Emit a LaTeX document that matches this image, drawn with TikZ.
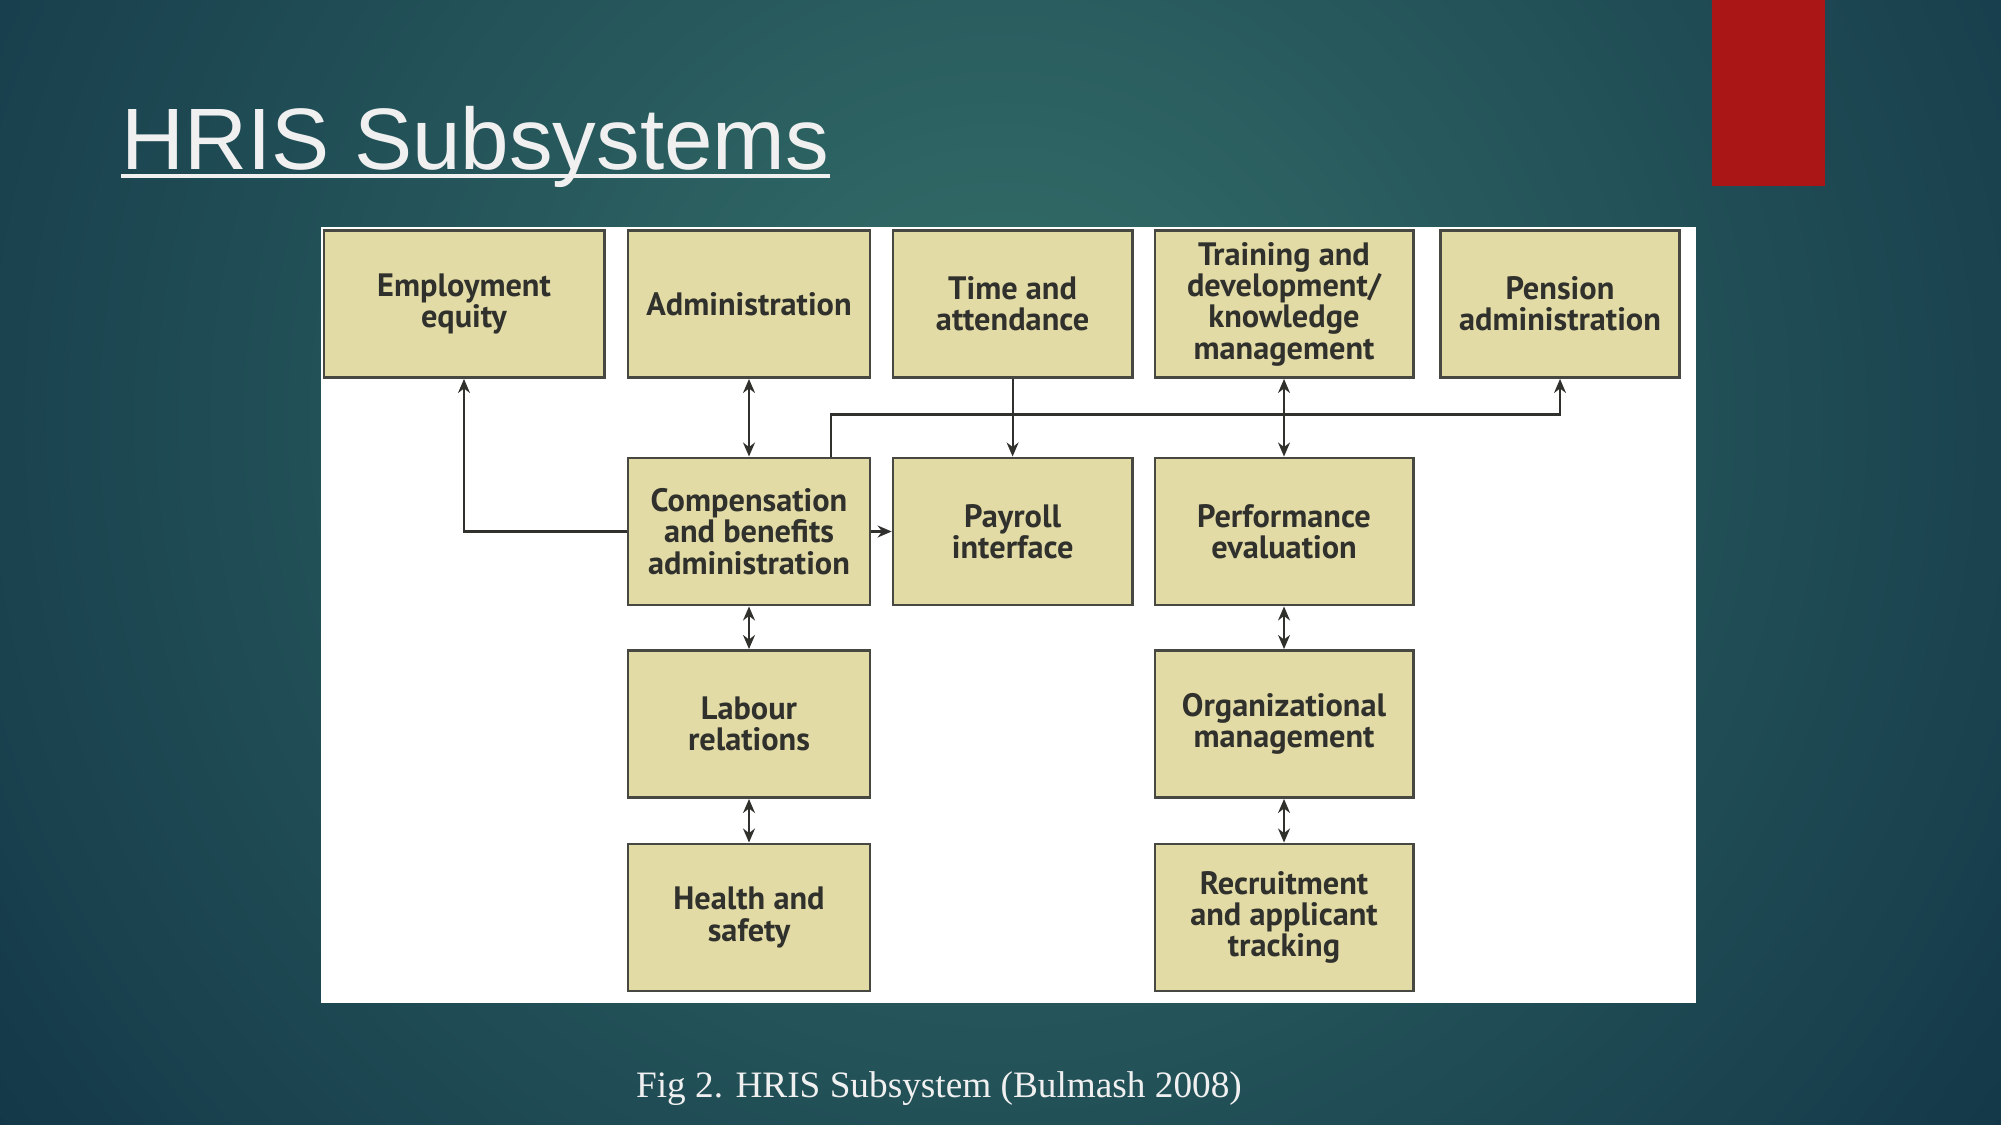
\documentclass[tikz,border=0pt]{standalone}
\usepackage{fontspec}
\setmainfont{Liberation Serif}
\newfontfamily\titlefont{Liberation Sans}
\newfontfamily\boxfont{PT Sans}
\usetikzlibrary{arrows.meta}
\definecolor{slidedark}{RGB}{19,55,72}
\definecolor{slidelight}{RGB}{53,112,106}
\definecolor{accentred}{RGB}{170,22,22}
\definecolor{titlewhite}{RGB}{240,240,240}
\definecolor{boxfill}{RGB}{226,219,166}
\definecolor{boxline}{RGB}{72,72,66}
\definecolor{inkgray}{RGB}{48,48,44}

\begin{document}
\begin{tikzpicture}[x=0.01cm, y=-0.01cm,
    unit/.style={draw=boxline, line width=0.8pt, fill=boxfill, align=center,
                 minimum height=1.47cm, inner sep=1pt, text=inkgray,
                 font=\boxfont\bfseries\fontsize{9.2}{8.9}\selectfont},
    link/.style={draw=inkgray, line width=0.6pt},
    onearrow/.style={link, -{Stealth[length=4pt, width=3.4pt]}},
    twoarrow/.style={link, {Stealth[length=4pt, width=3.4pt]}-{Stealth[length=4pt, width=3.4pt]}}]
    \useasboundingbox (0,0) rectangle (2001,1125);

    % slide background
    \fill[slidedark] (0,0) rectangle (2001,1125);
    \begin{scope}
      \clip (0,0) rectangle (2001,1125);
      \shade[inner color=slidelight, outer color=slidedark] (1000,420) circle (1250);
    \end{scope}
    \fill[accentred] (1712,0) rectangle (1825,186);

    \node[anchor=base west, inner sep=0, text=titlewhite,
          font=\titlefont\fontsize{24.8}{28}\selectfont] (title) at (121,170) {HRIS Subsystems};
    \draw[titlewhite, line width=1.1pt] ([yshift=-1.7pt]title.base west) -- ([yshift=-1.7pt]title.base east);

    % figure panel
    \fill[white] (321,227) rectangle (1696,1003);

    \node[unit, minimum width=2.80cm] (equity)   at (464,304)   {Employment\\equity};
    \node[unit, minimum width=2.42cm] (admin)    at (749,304)   {Administration};
    \node[unit, minimum width=2.39cm] (time)     at (1012.6,304) {Time and\\attendance};
    \node[unit, minimum width=2.58cm] (training) at (1284,304)  {Training and\\development/\\knowledge\\management};
    \node[unit, minimum width=2.39cm] (pension)  at (1560,304)  {Pension\\administration};

    \node[unit, minimum width=2.42cm] (comp)     at (749,531.5)  {Compensation\\and benefits\\administration};
    \node[unit, minimum width=2.39cm] (payroll)  at (1012.6,531.5) {Payroll\\interface};
    \node[unit, minimum width=2.58cm] (perf)     at (1284,531.5) {Performance\\evaluation};

    \node[unit, minimum width=2.42cm] (labour)   at (749,724)   {Labour\\relations};
    \node[unit, minimum width=2.58cm] (orgmgmt)  at (1284,724)  {Organizational\\management};

    \node[unit, minimum width=2.42cm] (health)   at (749,917.5) {Health and\\safety};
    \node[unit, minimum width=2.58cm] (recruit)  at (1284,917.5) {Recruitment\\and applicant\\tracking};

    \draw[onearrow] (comp.west) -| (equity.south);
    \draw[twoarrow] (admin) -- (comp);
    \draw[onearrow] (time) -- (payroll);
    \draw[twoarrow] (training) -- (perf);
    \draw[onearrow] ([xshift=0.82cm]comp.north) -- ++(0,-42) -| (pension.south);
    \draw[onearrow] (comp.east) -- (payroll.west);
    \draw[twoarrow] (comp) -- (labour);
    \draw[twoarrow] (labour) -- (health);
    \draw[twoarrow] (perf) -- (orgmgmt);
    \draw[twoarrow] (orgmgmt) -- (recruit);

    \node[anchor=base, inner sep=0, text=titlewhite, font=\fontsize{10.6}{12}\selectfont]
      (caption) at (939,1097) {Fig 2. HRIS Subsystem (Bulmash 2008)};
\end{tikzpicture}
\end{document}
